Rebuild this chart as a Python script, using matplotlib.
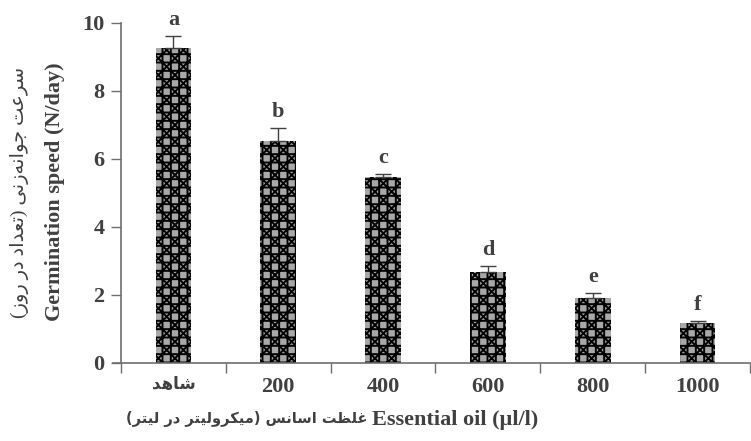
import matplotlib
matplotlib.use("Agg")
import matplotlib.pyplot as plt
import numpy as np

# ---- data ----
categories = ["شاهد", "200", "400", "600", "800", "1000"]
speed = [9.26, 6.53, 5.48, 2.68, 1.91, 1.18]
speed_err = [0.35, 0.37, 0.08, 0.16, 0.15, 0.05]
groups = ["a", "b", "c", "d", "e", "f"]

ylabel_fa = "سرعت جوانه\u200cزنی (تعداد در روز)"
ylabel_en = "Germination speed (N/day)"
xlabel_fa = "غلظت اسانس (میکرولیتر در لیتر)"
xlabel_en = "Essential oil (µl/l)"

# ---- minimal Persian shaping (contextual forms + right-to-left order) ----
FORMS = {
    "\u0627": ("\uFE8D", "\uFE8E", None, None),
    "\u062A": ("\uFE95", "\uFE96", "\uFE97", "\uFE98"),
    "\u062C": ("\uFE9D", "\uFE9E", "\uFE9F", "\uFEA0"),
    "\u062F": ("\uFEA9", "\uFEAA", None, None),
    "\u0631": ("\uFEAD", "\uFEAE", None, None),
    "\u0632": ("\uFEAF", "\uFEB0", None, None),
    "\u0633": ("\uFEB1", "\uFEB2", "\uFEB3", "\uFEB4"),
    "\u0634": ("\uFEB5", "\uFEB6", "\uFEB7", "\uFEB8"),
    "\u0638": ("\uFEC5", "\uFEC6", "\uFEC7", "\uFEC8"),
    "\u0639": ("\uFEC9", "\uFECA", "\uFECB", "\uFECC"),
    "\u063A": ("\uFECD", "\uFECE", "\uFECF", "\uFED0"),
    "\u0644": ("\uFEDD", "\uFEDE", "\uFEDF", "\uFEE0"),
    "\u0645": ("\uFEE1", "\uFEE2", "\uFEE3", "\uFEE4"),
    "\u0646": ("\uFEE5", "\uFEE6", "\uFEE7", "\uFEE8"),
    "\u0647": ("\uFEE9", "\uFEEA", "\uFEEB", "\uFEEC"),
    "\u0648": ("\uFEED", "\uFEEE", None, None),
    "\u06A9": ("\uFB8E", "\uFB8F", "\uFB90", "\uFB91"),
    "\u06CC": ("\uFBFC", "\uFBFD", "\uFBFE", "\uFBFF"),
}


def rtl(text):
    if not any(c in FORMS for c in text):
        return text
    out = []
    for i, c in enumerate(text):
        if c not in FORMS:
            out.append(c)
            continue
        prev = text[i - 1] if i > 0 else None
        nxt = text[i + 1] if i + 1 < len(text) else None
        join_prev = prev in FORMS and FORMS[prev][2] is not None
        join_next = nxt in FORMS and FORMS[c][2] is not None
        iso, fin, ini, med = FORMS[c]
        if join_prev and join_next:
            out.append(med)
        elif join_prev:
            out.append(fin)
        elif join_next:
            out.append(ini)
        else:
            out.append(iso)
    s = "".join(ch for ch in out if ch != "\u200c")[::-1]
    return s.translate(str.maketrans("()", ")("))


# ---- style ----
TEXT = "#404040"
AXIS = "#6e6e6e"
SERIF = ["Liberation Serif", "DejaVu Sans"]
plt.rcParams["hatch.linewidth"] = 1.4

fig = plt.figure(figsize=(7.51, 4.41), dpi=100)
ax = fig.add_axes([121 / 751, 1 - 363 / 441, 629 / 751, 340 / 441])

x = np.arange(len(categories))
ax.bar(x, speed, width=0.34, color="#a8a8a8", edgecolor="black",
       hatch="xx++", linewidth=0, zorder=2)
ax.errorbar(x, speed, yerr=[np.zeros(len(speed)), speed_err], fmt="none",
            ecolor=TEXT, elinewidth=1.0, capsize=6, capthick=1.0, zorder=3)

for xi, v, e, g in zip(x, speed, speed_err, groups):
    ax.text(xi, v + e + 0.18, g, ha="center", va="bottom", fontsize=16,
            fontweight="bold", family=SERIF, color=TEXT)

ax.set_xlim(-0.5, len(categories) - 0.5)
ax.set_ylim(0, 10)
ax.set_yticks(np.arange(0, 11, 2))
ax.set_xticks(np.arange(-0.5, len(categories), 1.0))
ax.set_xticklabels([])
ax.set_xticks(x, minor=True)
ax.set_xticklabels([rtl(c) for c in categories], minor=True)
ax.tick_params(axis="x", which="major", direction="out", length=7,
               width=1.0, color=AXIS)
ax.tick_params(axis="x", which="minor", length=0, pad=10)
ax.tick_params(axis="y", direction="out", length=7, width=1.0, color=AXIS,
               pad=5)
for lab in ax.get_xticklabels(minor=True) + ax.get_yticklabels():
    lab.set_fontfamily(SERIF)
    lab.set_fontweight("bold")
    lab.set_fontsize(16)
    lab.set_color(TEXT)
ax.get_xticklabels(minor=True)[0].set_fontsize(12)

for side in ("top", "right"):
    ax.spines[side].set_visible(False)
for side in ("left", "bottom"):
    ax.spines[side].set_color(AXIS)
    ax.spines[side].set_linewidth(1.2)
ax.spines["bottom"].set_bounds(-0.58, len(categories) - 0.5)

fig.text(20 / 751, 1 - 192 / 441, rtl(ylabel_fa), rotation=90, ha="center",
         va="center", fontsize=14, family=SERIF, color=TEXT)
fig.text(55 / 751, 1 - 192 / 441, ylabel_en, rotation=90, ha="center",
         va="center", fontsize=16, fontweight="bold", family=SERIF, color=TEXT)
fig.text(368 / 751, 1 - 419 / 441, rtl(xlabel_fa), ha="right",
         va="center", fontsize=10.5, fontweight="bold",
         family=["DejaVu Sans Condensed", "DejaVu Sans"], color=TEXT)
fig.text(372 / 751, 1 - 420 / 441, xlabel_en, ha="left",
         va="center", fontsize=16, fontweight="bold",
         family=SERIF, color=TEXT)

fig.savefig("out.png", dpi=100, facecolor="white")
